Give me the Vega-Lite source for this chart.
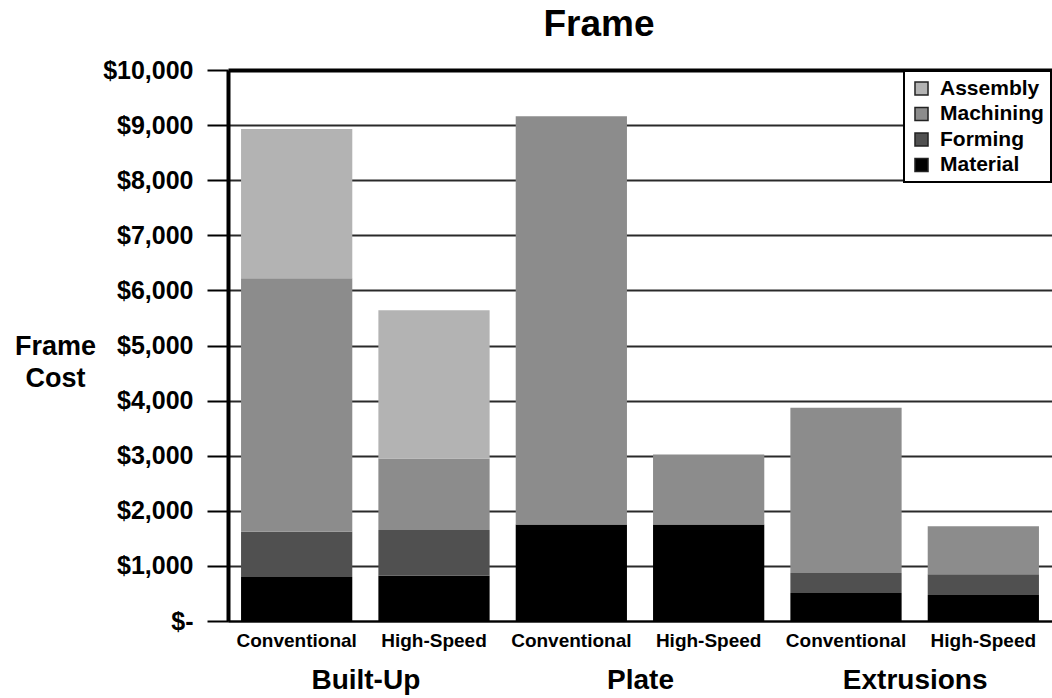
{
  "$schema": "https://vega.github.io/schema/vega-lite/v6.json",
  "autosize": "none",
  "width": 824,
  "height": 551,
  "padding": {"left": 228, "top": 70, "right": 0, "bottom": 77},
  "background": "white",
  "title": {
    "text": "Frame",
    "font": "Liberation Sans",
    "fontSize": 37,
    "fontWeight": "bold",
    "color": "black",
    "anchor": "middle",
    "frame": "group",
    "dx": -41,
    "offset": 14
  },
  "config": {
    "view": {"stroke": null},
    "font": "Liberation Sans",
    "axis": {
      "labelFont": "Liberation Sans",
      "labelFontWeight": "bold",
      "labelColor": "black",
      "titleFont": "Liberation Sans",
      "titleFontWeight": "bold",
      "titleColor": "black"
    },
    "legend": {
      "labelFont": "Liberation Sans",
      "labelFontWeight": "bold",
      "labelColor": "black",
      "strokeColor": "black",
      "strokeWidth": 2
    }
  },
  "data": {
    "values": [
      {"group": "Built-Up", "method": "Conventional", "component": "Material", "cost": 800},
      {"group": "Built-Up", "method": "Conventional", "component": "Forming", "cost": 820},
      {"group": "Built-Up", "method": "Conventional", "component": "Machining", "cost": 4600},
      {"group": "Built-Up", "method": "Conventional", "component": "Assembly", "cost": 2710},
      {"group": "Built-Up", "method": "High-Speed", "component": "Material", "cost": 820},
      {"group": "Built-Up", "method": "High-Speed", "component": "Forming", "cost": 830},
      {"group": "Built-Up", "method": "High-Speed", "component": "Machining", "cost": 1300},
      {"group": "Built-Up", "method": "High-Speed", "component": "Assembly", "cost": 2690},
      {"group": "Plate", "method": "Conventional", "component": "Material", "cost": 1750},
      {"group": "Plate", "method": "Conventional", "component": "Machining", "cost": 7410},
      {"group": "Plate", "method": "High-Speed", "component": "Material", "cost": 1750},
      {"group": "Plate", "method": "High-Speed", "component": "Machining", "cost": 1270},
      {"group": "Extrusions", "method": "Conventional", "component": "Material", "cost": 510},
      {"group": "Extrusions", "method": "Conventional", "component": "Forming", "cost": 360},
      {"group": "Extrusions", "method": "Conventional", "component": "Machining", "cost": 3000},
      {"group": "Extrusions", "method": "High-Speed", "component": "Material", "cost": 470},
      {"group": "Extrusions", "method": "High-Speed", "component": "Forming", "cost": 380},
      {"group": "Extrusions", "method": "High-Speed", "component": "Machining", "cost": 870}
    ]
  },
  "transform": [
    {"calculate": "datum.group + '|' + datum.method", "as": "bar"},
    {"calculate": "indexof(['Material', 'Forming', 'Machining', 'Assembly'], datum.component)", "as": "stackRank"}
  ],
  "layer": [
    {
      "mark": {"type": "bar"},
      "encoding": {
        "x": {
          "field": "bar",
          "type": "nominal",
          "sort": null,
          "scale": {"paddingInner": 0.19, "paddingOuter": 0.095},
          "axis": {
            "orient": "bottom",
            "title": null,
            "labelExpr": "split(datum.label, '|')[1]",
            "labelAngle": 0,
            "labelFontSize": 19,
            "labelPadding": 10,
            "ticks": false,
            "domain": true,
            "domainColor": "black",
            "domainWidth": 2,
            "grid": false
          }
        },
        "y": {
          "aggregate": "sum",
          "field": "cost",
          "type": "quantitative",
          "stack": "zero",
          "scale": {"domain": [0, 10000], "nice": false},
          "axis": {
            "values": [0, 1000, 2000, 3000, 4000, 5000, 6000, 7000, 8000, 9000, 10000],
            "labelExpr": "datum.value === 0 ? '$-' : '$' + format(datum.value, ',')",
            "labelFontSize": 25,
            "labelPadding": 14,
            "tickSize": 21,
            "tickWidth": 2,
            "tickColor": "black",
            "domain": true,
            "domainColor": "black",
            "domainWidth": 4,
            "grid": true,
            "gridColor": {"condition": {"test": "datum.value === 10000", "value": "black"}, "value": "#2a2a2a"},
            "gridWidth": {"condition": {"test": "datum.value === 10000", "value": 4}, "value": 1.8},
            "title": ["Frame", "Cost"],
            "titleFontSize": 27,
            "titleAngle": 0,
            "titleAlign": "center",
            "titleBaseline": "alphabetic",
            "titleLineHeight": 32,
            "titleX": -173,
            "titleY": 284
          }
        },
        "color": {
          "field": "component",
          "type": "nominal",
          "scale": {
            "domain": ["Assembly", "Machining", "Forming", "Material"],
            "range": ["#b3b3b3", "#8c8c8c", "#505050", "#000000"]
          },
          "legend": {
            "title": null,
            "orient": "top-right",
            "offset": 1,
            "symbolType": "square",
            "symbolSize": 170,
            "symbolStrokeColor": "#222222",
            "symbolStrokeWidth": 1.5,
            "labelFontSize": 21,
            "labelOffset": 8,
            "rowPadding": 3.5,
            "padding": 7,
            "fillColor": "white"
          }
        },
        "order": {"field": "stackRank", "type": "quantitative", "sort": "ascending"}
      }
    },
    {
      "mark": {"type": "text", "text": ""},
      "encoding": {
        "x": {
          "field": "group",
          "type": "nominal",
          "sort": null,
          "axis": {
            "orient": "bottom",
            "title": null,
            "labelAngle": 0,
            "labelFontSize": 28,
            "labelPadding": 45,
            "ticks": false,
            "domain": false,
            "grid": false
          }
        }
      }
    }
  ],
  "resolve": {"scale": {"x": "independent"}, "axis": {"x": "independent"}}
}
